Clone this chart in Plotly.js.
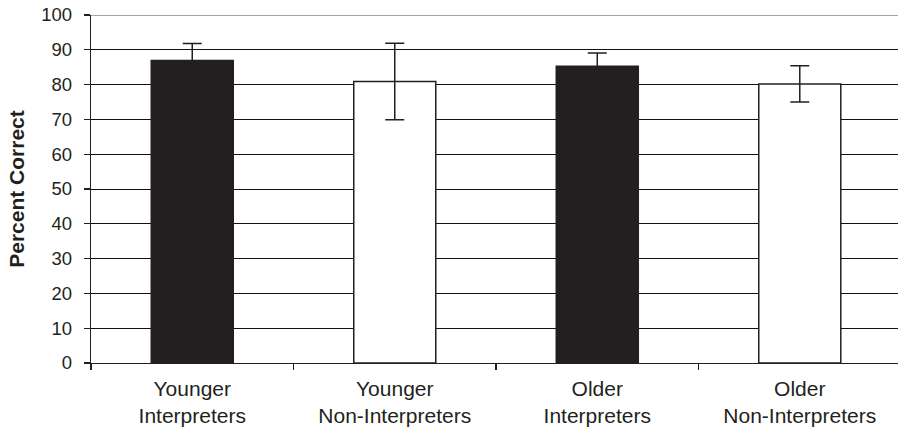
<!DOCTYPE html>
<html>
<head>
<meta charset="utf-8">
<script src="https://cdn.plot.ly/plotly-3.0.1.min.js"></script>
<style>html,body{margin:0;padding:0;background:#fff}#chart{width:898px;height:430px}</style>
</head>
<body>
<div id="chart"></div>
<script>
const categories = ["Younger<br>Interpreters", "Younger<br>Non-Interpreters", "Older<br>Interpreters", "Older<br>Non-Interpreters"];
const percentCorrect = [86.9, 80.9, 85.3, 80.2];
const errorValues = [4.9, 11.0, 3.8, 5.2];
const yTickVals = [0, 10, 20, 30, 40, 50, 60, 70, 80, 90, 100];
const yTitle = "Percent Correct";

const dark = "#231f20";
const barFill = [dark, "#ffffff", dark, "#ffffff"];

const trace = {
  type: "bar",
  x: categories,
  y: percentCorrect,
  marker: { color: barFill, line: { color: dark, width: 1.5 } },
  error_y: { type: "data", array: errorValues, visible: true, color: dark, thickness: 1.5, width: 9.5 },
  hoverinfo: "none"
};

const font = "Arial, 'Liberation Sans', sans-serif";
const layout = {
  width: 898, height: 430,
  margin: { l: 91, r: 0, t: 15, b: 67 },
  paper_bgcolor: "#fff", plot_bgcolor: "#fff",
  showlegend: false,
  bargap: 0.595,
  font: { family: font, color: "#231f20" },
  xaxis: {
    type: "category",
    range: [-0.5, 3.485],
    tickson: "boundaries",
    ticks: "outside", ticklen: 6, tickcolor: dark, tickwidth: 1.3,
    ticklabelstandoff: 6,
    showline: true, linecolor: dark, linewidth: 1.3,
    showgrid: false, zeroline: false,
    tickfont: { family: font, size: 21, color: "#231f20" }
  },
  yaxis: {
    range: [0, 100],
    tickmode: "array", tickvals: yTickVals,
    ticks: "outside", ticklen: 6, tickcolor: dark, tickwidth: 1.3,
    ticklabelstandoff: 8,
    showline: true, linecolor: dark, linewidth: 1.3,
    showgrid: true, gridcolor: "#111111", gridwidth: 1,
    zeroline: false,
    tickfont: { family: font, size: 18.5, color: "#231f20" },
    title: { text: "<b>" + yTitle + "</b>", font: { family: font, size: 21, color: "#231f20" }, standoff: 10 }
  },
  shapes: [{
    type: "line", xref: "paper", yref: "y", x0: 0, x1: 1, y0: 100, y1: 100,
    line: { color: "#a6a6a6", width: 2 }, layer: "above"
  }]
};

Plotly.newPlot("chart", [trace], layout, { displayModeBar: false, staticPlot: true });
</script>
</body>
</html>
